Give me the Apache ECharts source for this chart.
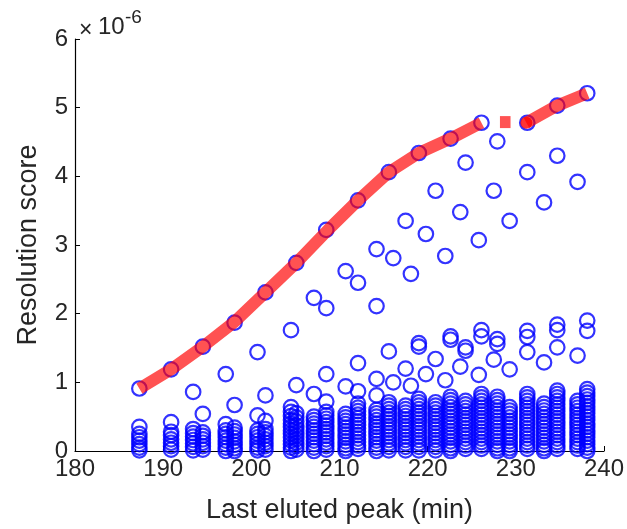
<!DOCTYPE html>
<html>
<head>
<meta charset="utf-8">
<script src="https://cdn.jsdelivr.net/npm/echarts@6/dist/echarts.min.js"></script>
<style>
html,body{margin:0;padding:0;background:#fff;}
#chart{width:627px;height:529px;}
</style>
</head>
<body>
<div id="chart"></div>
<script>
// Red envelope line (values in units of 1e-6)
const redX = [187.3, 190.9, 194.5, 198.0, 201.6, 205.1, 208.7, 212.1, 215.6, 219.0, 222.6, 226.1];
const redY = [0.91, 1.19, 1.52, 1.87, 2.31, 2.74, 3.22, 3.65, 4.06, 4.34, 4.55, 4.78];
const red2X = [231.2, 234.7, 238.1];
const red2Y = [4.78, 5.03, 5.21];
const redDashX = [228.2, 229.4];
const redDashY = [4.79, 4.79];
const redDotX = [231.2];
const redDotY = [4.78];

// Blue circles: one column x each, with its y values
const colX = [187.3, 190.9, 193.4, 194.5, 197.1, 198.1, 200.7, 201.6, 204.5, 205.1,
              207.1, 208.5, 210.7, 212.1, 214.2, 215.6, 216.1, 217.5, 218.1, 219.0,
              219.8, 220.9, 222.0, 222.6, 223.7, 224.3, 225.8, 226.1, 227.5, 227.9,
              229.3, 231.3, 233.2, 234.7, 237.0, 238.1];
const colY = [
  [0.91, 0.35, 0.25, 0.20, 0.15, 0.10, 0.05, 0.01],
  [1.19, 0.42, 0.28, 0.23, 0.17, 0.12, 0.07, 0.02],
  [0.86, 0.32, 0.26, 0.21, 0.16, 0.11, 0.06, 0.01],
  [1.52, 0.54, 0.27, 0.22, 0.17, 0.12, 0.07, 0.02],
  [1.12, 0.39, 0.30, 0.25, 0.20, 0.15, 0.10, 0.05, 0.00],
  [1.87, 0.67, 0.34, 0.29, 0.24, 0.19, 0.14, 0.09, 0.04, 0.00],
  [1.44, 0.52, 0.30, 0.25, 0.20, 0.15, 0.10, 0.05, 0.01],
  [2.31, 0.81, 0.44, 0.32, 0.27, 0.22, 0.17, 0.12, 0.07, 0.02],
  [1.76, 0.64, 0.57, 0.51, 0.45, 0.40, 0.35, 0.30, 0.25, 0.20, 0.15, 0.10, 0.05, 0.00],
  [2.74, 0.96, 0.55, 0.49, 0.43, 0.37, 0.32, 0.27, 0.22, 0.17, 0.12, 0.07, 0.02],
  [2.23, 0.83, 0.50, 0.45, 0.40, 0.35, 0.30, 0.25, 0.20, 0.15, 0.10, 0.05, 0.00],
  [3.22, 2.08, 1.12, 0.72, 0.57, 0.52, 0.47, 0.42, 0.37, 0.32, 0.27, 0.22, 0.17, 0.12, 0.07, 0.02],
  [2.62, 0.94, 0.54, 0.49, 0.44, 0.39, 0.34, 0.29, 0.24, 0.19, 0.14, 0.09, 0.04, 0.00],
  [3.65, 2.45, 1.28, 0.87, 0.69, 0.63, 0.58, 0.53, 0.48, 0.43, 0.38, 0.33, 0.28, 0.23, 0.18, 0.13, 0.08, 0.03],
  [2.94, 2.11, 1.05, 0.81, 0.60, 0.55, 0.50, 0.45, 0.40, 0.35, 0.30, 0.25, 0.20, 0.15, 0.10, 0.05, 0.00],
  [4.06, 1.45, 0.71, 0.66, 0.61, 0.56, 0.51, 0.46, 0.41, 0.36, 0.31, 0.26, 0.21, 0.16, 0.11, 0.06, 0.01],
  [2.81, 1.00],
  [3.35, 1.20, 0.66, 0.61, 0.56, 0.51, 0.46, 0.41, 0.36, 0.31, 0.26, 0.21, 0.16, 0.11, 0.06, 0.01],
  [2.58, 0.95],
  [4.34, 1.57, 1.52, 0.76, 0.71, 0.66, 0.61, 0.56, 0.51, 0.46, 0.41, 0.36, 0.31, 0.26, 0.21, 0.16, 0.11, 0.06, 0.01],
  [3.16, 1.12],
  [3.79, 1.34, 0.71, 0.66, 0.61, 0.56, 0.51, 0.46, 0.41, 0.36, 0.31, 0.26, 0.21, 0.16, 0.11, 0.06, 0.01],
  [2.84, 1.03],
  [4.55, 1.67, 1.62, 0.79, 0.74, 0.69, 0.64, 0.59, 0.54, 0.49, 0.44, 0.39, 0.34, 0.29, 0.24, 0.19, 0.14, 0.09, 0.04, 0.00],
  [3.48, 1.23],
  [4.20, 1.51, 1.46, 0.73, 0.68, 0.63, 0.58, 0.53, 0.48, 0.43, 0.38, 0.33, 0.28, 0.23, 0.18, 0.13, 0.08, 0.03],
  [3.07, 1.11],
  [4.78, 1.76, 1.67, 0.83, 0.78, 0.73, 0.68, 0.63, 0.58, 0.53, 0.48, 0.43, 0.38, 0.33, 0.28, 0.23, 0.18, 0.13, 0.08, 0.03],
  [3.79, 1.33],
  [4.51, 1.63, 1.56, 0.79, 0.74, 0.69, 0.64, 0.59, 0.54, 0.49, 0.44, 0.39, 0.34, 0.29, 0.24, 0.19, 0.14, 0.09, 0.04, 0.00],
  [3.35, 1.19, 0.64, 0.59, 0.54, 0.49, 0.44, 0.39, 0.34, 0.29, 0.24, 0.19, 0.14, 0.09, 0.04, 0.00],
  [4.78, 4.06, 1.75, 1.66, 1.44, 0.83, 0.78, 0.73, 0.68, 0.63, 0.58, 0.53, 0.48, 0.43, 0.38, 0.33, 0.28, 0.23, 0.18, 0.13, 0.08, 0.03],
  [3.62, 1.29, 0.69, 0.64, 0.59, 0.54, 0.49, 0.44, 0.39, 0.34, 0.29, 0.24, 0.19, 0.14, 0.09, 0.04, 0.00],
  [5.03, 4.30, 1.84, 1.76, 1.51, 0.88, 0.83, 0.78, 0.73, 0.68, 0.63, 0.58, 0.53, 0.48, 0.43, 0.38, 0.33, 0.28, 0.23, 0.18, 0.13, 0.08, 0.03],
  [3.92, 1.39, 0.73, 0.68, 0.63, 0.58, 0.53, 0.48, 0.43, 0.38, 0.33, 0.28, 0.23, 0.18, 0.13, 0.08, 0.03],
  [5.21, 1.90, 1.75, 0.90, 0.85, 0.80, 0.75, 0.70, 0.65, 0.60, 0.55, 0.50, 0.45, 0.40, 0.35, 0.30, 0.25, 0.20, 0.15, 0.10, 0.05, 0.00]
];

const xTicks = [180, 190, 200, 210, 220, 230, 240];
const yTicks = [0, 1, 2, 3, 4, 5, 6];
const xTitle = 'Last eluted peak (min)';
const yTitle = 'Resolution score';

const zip = (xs, ys) => xs.map((x, i) => [x, ys[i]]);
const blueData = [];
colX.forEach((x, i) => colY[i].forEach(y => blueData.push([x, y])));

const FONT = '"Liberation Sans", Arial, Helvetica, sans-serif';
const TXT = '#262626';

const chart = echarts.init(document.getElementById('chart'), null, {renderer: 'canvas'});
chart.setOption({
  animation: false,
  backgroundColor: '#fff',
  grid: {left: 75, right: 21, top: 39, bottom: 77, containLabel: false},
  xAxis: {
    type: 'value', min: xTicks[0], max: xTicks[xTicks.length - 1], interval: 10,
    name: xTitle, nameLocation: 'middle', nameGap: 46,
    nameTextStyle: {fontFamily: FONT, fontSize: 27, color: TXT},
    axisLine: {show: true, onZero: false, lineStyle: {color: '#000', width: 1.2}},
    axisTick: {show: true, inside: true, length: 5, lineStyle: {color: '#000'}},
    axisLabel: {fontFamily: FONT, fontSize: 24, color: TXT, margin: 6},
    splitLine: {show: false}
  },
  yAxis: {
    type: 'value', min: yTicks[0], max: yTicks[yTicks.length - 1], interval: 1,
    name: yTitle, nameLocation: 'middle', nameGap: 33, nameRotate: 90,
    nameTextStyle: {fontFamily: FONT, fontSize: 27, color: TXT},
    axisLine: {show: true, onZero: false, lineStyle: {color: '#000', width: 1.2}},
    axisTick: {show: true, inside: true, length: 5, lineStyle: {color: '#000'}},
    axisLabel: {fontFamily: FONT, fontSize: 24, color: TXT, margin: 7},
    splitLine: {show: false}
  },
  graphic: [
    {type: 'text', left: 79, top: 19, style: {text: '×', fontFamily: FONT, fontSize: 23, fill: TXT}},
    {type: 'text', left: 98, top: 15, style: {text: '10', fontFamily: FONT, fontSize: 24, fill: TXT}},
    {type: 'text', left: 125, top: 8, style: {text: '-6', fontFamily: FONT, fontSize: 19, fill: TXT}}
  ],
  series: [
    {
      type: 'scatter', data: blueData, symbol: 'circle', symbolSize: 14.5, z: 2,
      itemStyle: {color: 'rgba(0,0,0,0)', borderColor: '#0000ff', borderWidth: 2.2}
    },
    {
      type: 'scatter', data: zip(redDotX, redDotY), symbol: 'circle', symbolSize: 12, z: 3,
      itemStyle: {color: '#ff0000'}
    },
    {
      type: 'line', data: zip(redX, redY), showSymbol: false, symbol: 'none', z: 4,
      lineStyle: {color: 'rgba(255,0,0,0.68)', width: 12, cap: 'butt', join: 'round'}
    },
    {
      type: 'line', data: zip(red2X, red2Y), showSymbol: false, symbol: 'none', z: 4,
      lineStyle: {color: 'rgba(255,0,0,0.68)', width: 12, cap: 'butt', join: 'round'}
    },
    {
      type: 'line', data: zip(redDashX, redDashY), showSymbol: false, symbol: 'none', z: 4,
      lineStyle: {color: 'rgba(255,0,0,0.68)', width: 12, cap: 'butt'}
    }
  ]
});
</script>
</body>
</html>
